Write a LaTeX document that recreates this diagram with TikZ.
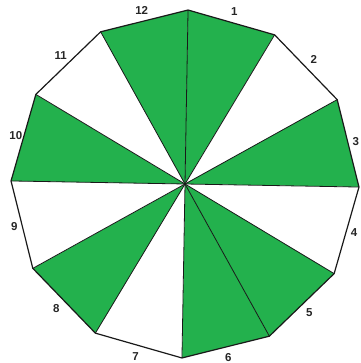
\documentclass[tikz,border=0pt]{standalone}
\usepackage{fontspec}
\setmainfont{Liberation Sans}
\definecolor{sectgreen}{RGB}{35,177,77}
\tikzset{
  radial/.style={draw=black!90, line width=0.8pt},
  outline/.style={draw=black!90, line width=1.2pt, line join=miter},
  lbl/.style={font=\fontsize{11.5}{11.5}\selectfont\bfseries, text=black!85, inner sep=0pt}
}
\begin{document}
\begin{tikzpicture}[x=1pt,y=1pt]
\useasboundingbox (-185,-179) rectangle (175,184);
\coordinate (O) at (0,0);
\foreach \k in {0,...,12} \coordinate (v\k) at ({89-30*\k}:174);
\foreach \i/\c in {1/sectgreen,2/white,3/sectgreen,4/white,5/sectgreen,6/sectgreen,7/white,8/sectgreen,9/white,10/sectgreen,11/white,12/sectgreen}{
  \pgfmathtruncatemacro\j{\i-1}
  \fill[\c] (O) -- (v\j) -- (v\i) -- cycle;
}
\foreach \k in {0,...,11} \draw[radial] (O) -- (v\k);
\draw[outline] (v0) -- (v1) -- (v2) -- (v3) -- (v4) -- (v5) -- (v6) -- (v7) -- (v8) -- (v9) -- (v10) -- (v11) -- cycle;
\foreach \i/\r in {1/179,2/179,3/176,4/176,5/179,6/179,7/179,8/179,9/176,10/176,11/179,12/179}
  \node[lbl] (l\i) at ({104-30*\i}:\r) {\i};
\end{tikzpicture}
\end{document}
